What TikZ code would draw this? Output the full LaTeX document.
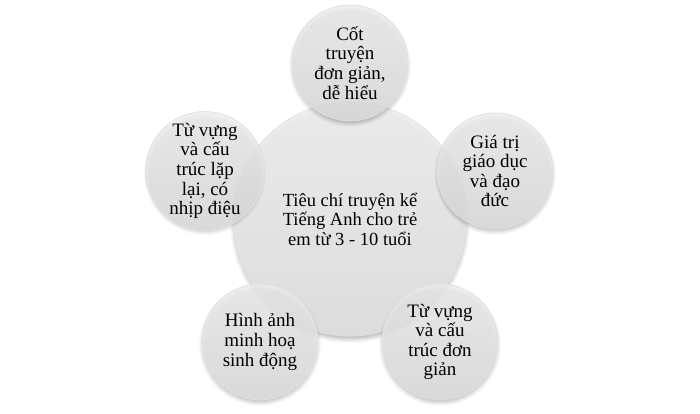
\documentclass[tikz,border=0pt]{standalone}
\usepackage{fontspec}
\setmainfont{Liberation Serif}
\newcommand{\bshadow}[3]{%
  \foreach \d/\o in {5/0.025,4/0.03,3/0.035,2/0.04,1/0.05,0/0.06}{%
    \fill[black,opacity=\o] (#1,#2+3) circle ({#3+\d-2});}}
\begin{document}
\begin{tikzpicture}[x=1pt,y=-1pt,
  bub/.style={circle, draw=white!75!gray, line width=0.7pt,
    top color=gray!13, bottom color=gray!26, fill opacity=0.82, text opacity=1,
    align=center, inner sep=0pt, text=black},
  sat/.style={bub, minimum size=116pt, font=\fontsize{19}{19.6}\selectfont},
  hub/.style={bub, minimum size=234pt, fill opacity=0.9, font=\fontsize{18.5}{19.6}\selectfont}]
\useasboundingbox (0,0) rectangle (700,413);
% central
\bshadow{350}{220}{117}
\node[hub] (c) at (350,219) {Tiêu chí truyện kể\\Tiếng Anh cho trẻ\\em từ 3 - 10 tuổi};
% satellites
\bshadow{350}{63}{58}
\node[sat] (t) at (350,63) {Cốt\\truyện\\đơn giản,\\dễ hiểu};
\bshadow{495}{171}{58}
\node[sat] (r) at (495,171) {Giá trị\\giáo dục\\và đạo\\đức};
\bshadow{440}{342}{58}
\node[sat] (br) at (440,342) {Từ vựng\\và cấu\\trúc đơn\\giản};
\bshadow{260}{342}{58}
\node[sat] (bl) at (260,342) {Hình ảnh\\minh hoạ\\sinh động};
\bshadow{205}{171}{58}
\node[sat] (l) at (205,171) {Từ vựng\\và cấu\\trúc lặp\\lại, có\\nhịp điệu};
\end{tikzpicture}
\end{document}
